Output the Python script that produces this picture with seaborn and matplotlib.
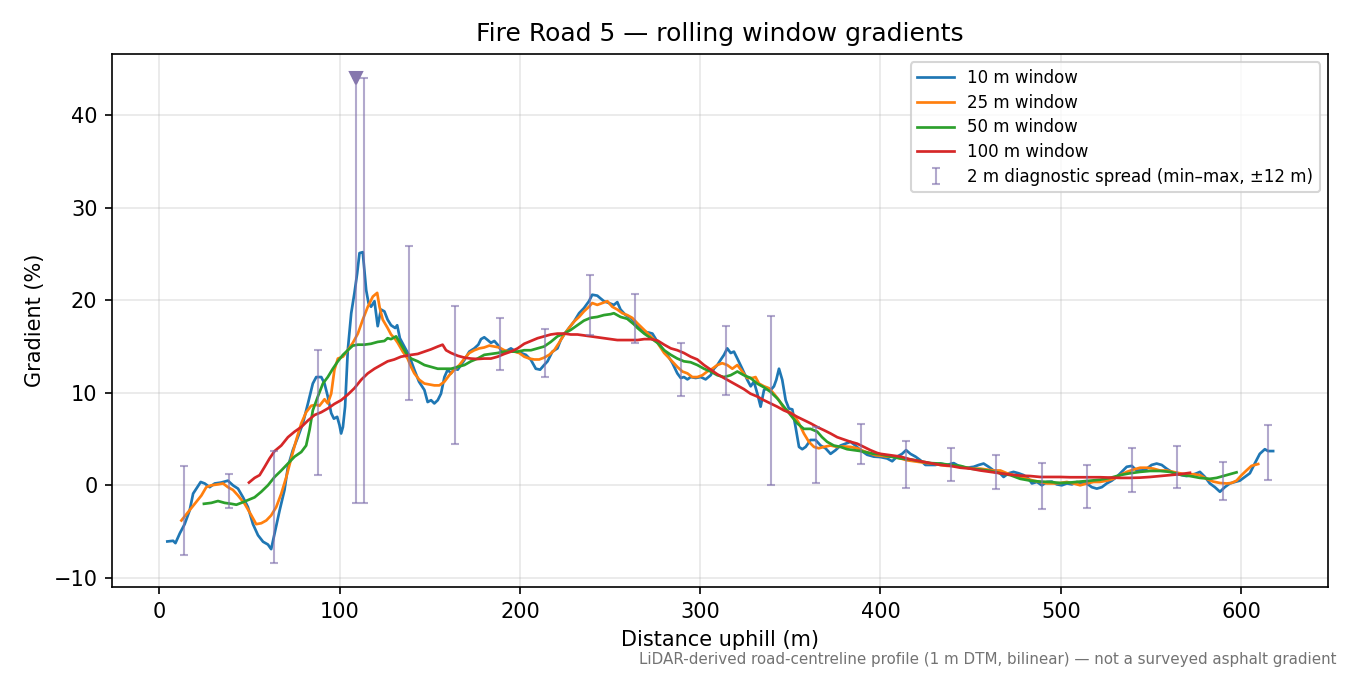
import numpy as np
import pandas as pd
import matplotlib
matplotlib.use("Agg")
import matplotlib.pyplot as plt
import seaborn as sns

# rolling window gradients (distance m, gradient %)
x10 = [4.4, 7.6, 8.9, 11.3, 14.0, 16.8, 18.7, 20.5, 22.9, 25.1, 27.9, 30.7, 34.3, 38.0, 40.8, 43.6,
       46.4, 49.1, 51.9, 54.7, 57.5, 60.2, 62.0, 63.9, 66.7, 69.4, 71.3, 74.0, 76.8, 79.6, 82.4, 85.1,
       87.0, 89.8, 91.6, 93.4, 95.3, 96.8, 98.6, 99.9, 100.8, 101.8, 103.0, 104.5, 106.4, 108.2, 109.7,
       111.0, 112.8, 114.7, 116.0, 117.4, 119.3, 121.1, 122.9, 124.8, 126.6, 128.5, 130.8, 131.9, 133.4,
       136.4, 138.4, 141.4, 144.0, 147.0, 148.8, 150.7, 152.5, 154.4, 156.2, 158.1, 159.9, 161.8, 163.6,
       165.5, 167.3, 169.2, 171.9, 174.7, 176.9, 178.4, 180.2, 182.1, 183.9, 185.8, 187.6, 190.4, 193.2,
       195.0, 197.8, 200.5, 203.3, 206.1, 208.8, 211.2, 213.4, 215.3, 218.0, 220.8, 222.6, 224.5, 227.2,
       230.0, 232.8, 235.5, 238.3, 240.1, 242.9, 244.7, 246.6, 249.4, 252.1, 254.0, 255.8, 258.6, 261.4,
       265.2, 268.9, 271.6, 273.5, 276.3, 279.0, 281.8, 284.6, 287.3, 289.2, 291.0, 292.9, 294.7, 297.5,
       300.3, 303.0, 305.8, 307.6, 309.5, 311.3, 313.2, 315.0, 316.9, 318.7, 320.6, 323.3, 326.1, 328.0,
       329.8, 331.7, 333.5, 335.4, 337.2, 339.1, 340.9, 342.2, 343.7, 345.5, 347.4, 349.2, 351.1, 352.9,
       354.8, 356.6, 358.5, 361.2, 364.0, 366.8, 369.5, 372.3, 375.1, 377.8, 380.6, 383.4, 386.1, 388.9,
       392.6, 396.3, 400.0, 403.7, 406.5, 409.2, 412.0, 414.2, 416.6, 419.4, 422.2, 424.9, 427.7, 430.5,
       433.2, 436.9, 440.6, 444.3, 448.0, 451.7, 454.5, 457.2, 460.0, 462.8, 465.5, 468.3, 471.1, 473.8,
       476.6, 479.4, 482.2, 484.0, 486.8, 489.5, 492.3, 495.1, 497.8, 500.6, 503.4, 506.2, 508.9, 511.7,
       514.5, 517.2, 520.0, 522.8, 525.5, 528.3, 531.0, 533.8, 536.6, 539.4, 542.1, 544.9, 547.7, 550.4,
       553.2, 556.0, 558.7, 561.5, 564.3, 567.0, 569.8, 572.6, 575.4, 577.2, 580.0, 582.7, 585.5, 588.3,
       591.0, 593.8, 596.6, 599.3, 602.1, 604.9, 607.6, 610.4, 613.2, 615.0, 617.8]
g10 = [-6.07, -6.0, -6.25, -5.2, -4.2, -2.7, -0.9, -0.36, 0.36, 0.2, -0.2, 0.2, 0.3, 0.5, 0.0, -0.36,
       -1.3, -2.35, -4.2, -5.4, -6.1, -6.4, -6.9, -5.2, -2.7, -0.5, 2.0, 3.8, 5.2, 6.7, 8.85, 11.0,
       11.7, 11.7, 11.0, 9.6, 7.8, 7.2, 7.4, 6.5, 5.6, 6.3, 8.5, 14.6, 18.6, 20.8, 22.9,
       25.1, 25.2, 21.1, 19.7, 19.3, 19.9, 17.2, 19.0, 18.8, 17.9, 17.3, 17.0, 17.3, 15.9,
       14.8, 14.1, 12.5, 11.2, 10.3, 9.0, 9.2, 8.85, 9.2, 9.9, 11.7, 12.5, 12.1, 12.6,
       12.5, 13.0, 13.55, 14.45, 14.8, 15.2, 15.8, 16.0, 15.7, 15.4, 15.6, 15.2, 14.3, 14.6,
       14.8, 14.45, 14.3, 14.1, 13.55, 12.6, 12.5, 13.0, 13.4, 14.45, 14.8, 15.7, 16.3, 17.0,
       17.7, 18.6, 19.15, 19.9, 20.6, 20.5, 20.2, 19.9, 19.7, 19.5, 19.8, 19.0, 18.4, 18.1,
       17.3, 16.6, 16.5, 16.4, 15.5, 14.8, 14.1, 13.2, 12.1, 11.6, 11.7, 11.45, 11.7, 11.6,
       11.7, 11.45, 11.9, 12.6, 13.0, 13.55, 14.1, 14.8, 14.3, 14.45, 13.7, 12.6, 11.4, 10.7,
       11.2, 9.9, 8.5, 10.3, 10.5, 10.3, 10.7, 11.4, 12.6, 11.4, 9.2, 8.3, 8.2, 6.3,
       4.15, 3.9, 4.15, 4.9, 4.9, 4.3, 4.0, 3.4, 3.8, 4.3, 4.5, 4.7, 4.3, 3.8,
       3.3, 3.1, 3.05, 2.9, 2.6, 3.1, 3.4, 3.8, 3.4, 3.1, 2.7, 2.2, 2.2, 2.2,
       2.35, 2.2, 2.4, 2.0, 1.9, 2.0, 2.2, 2.35, 2.0, 1.6, 1.45, 0.9, 1.3, 1.45,
       1.3, 1.1, 0.7, 0.2, 0.36, 0.0, 0.36, 0.4, 0.1, 0.0, 0.2, 0.1, 0.36, 0.2,
       0.2, -0.2, -0.36, -0.2, 0.2, 0.5, 0.9, 1.45, 2.0, 2.1, 1.6, 1.6, 1.8, 2.2,
       2.35, 2.2, 1.8, 1.45, 1.3, 1.1, 1.0, 1.1, 1.3, 1.45, 0.9, 0.2, -0.2, -0.7,
       -0.2, 0.2, 0.36, 0.5, 0.9, 1.3, 2.35, 3.4, 3.9, 3.7, 3.7]

x25 = [12.2, 15.9, 19.6, 23.3, 26.0, 28.8, 32.5, 35.3, 38.0, 40.8, 43.6, 47.3, 51.0, 53.7, 56.5, 59.3,
       62.0, 64.8, 67.6, 70.4, 73.1, 75.9, 78.7, 81.4, 84.2, 87.0, 88.8, 91.6, 93.4, 95.3, 97.1, 99.0,
       101.8, 104.5, 107.3, 110.1, 112.8, 115.6, 118.4, 120.8, 122.1, 123.9, 126.6, 128.5, 130.4, 132.2,
       135.0, 137.7, 139.6, 141.4, 144.2, 147.0, 149.7, 152.5, 155.3, 158.1, 160.8, 163.6, 166.4, 169.2,
       171.9, 174.7, 177.5, 180.2, 183.0, 185.8, 188.5, 191.3, 194.1, 196.9, 199.6, 202.4, 205.2, 207.9,
       210.7, 213.4, 216.2, 219.0, 221.7, 224.5, 227.2, 230.0, 232.8, 235.5, 238.3, 240.1, 242.9, 245.7,
       248.5, 251.2, 254.0, 256.8, 259.5, 262.3, 265.2, 268.9, 272.6, 276.3, 280.0, 283.7, 287.3, 290.1,
       292.9, 295.6, 298.4, 301.2, 303.9, 306.7, 309.5, 312.2, 315.0, 317.8, 320.6, 323.3, 326.1, 328.9,
       330.7, 332.6, 335.4, 338.1, 340.9, 343.7, 346.4, 349.2, 352.0, 354.8, 357.5, 360.3, 363.1, 365.8,
       368.6, 372.3, 376.0, 379.7, 383.4, 387.1, 390.7, 394.4, 397.2, 400.0, 403.7, 407.4, 411.1, 414.8,
       418.5, 422.2, 425.9, 429.5, 433.2, 436.9, 440.6, 444.3, 448.0, 451.7, 455.4, 459.1, 462.8, 466.5,
       470.2, 473.9, 477.5, 481.2, 484.9, 488.6, 492.3, 496.0, 499.7, 503.4, 507.1, 510.8, 514.5, 518.2,
       521.8, 525.5, 529.2, 532.9, 536.6, 540.3, 544.0, 547.7, 551.4, 555.1, 558.7, 562.4, 566.1, 569.8,
       573.5, 577.2, 580.9, 584.6, 588.3, 592.0, 594.7, 597.5, 600.3, 603.0, 605.8, 609.5]
g25 = [-3.8, -2.9, -2.0, -1.1, -0.2, 0.0, 0.1, 0.2, -0.2, -0.5, -1.1, -2.0, -3.25, -4.2, -4.1, -3.8,
       -3.25, -2.35, -0.9, 0.9, 2.9, 4.9, 6.7, 7.9, 8.6, 8.7, 8.6, 9.3, 8.85, 9.9, 12.5, 13.7,
       13.9, 14.6, 15.4, 16.4, 17.9, 19.3, 20.4, 20.8, 19.3, 17.9, 17.0, 16.3, 15.9, 15.4,
       14.45, 13.7, 12.8, 12.1, 11.4, 11.0, 10.9, 10.8, 10.8, 11.2, 11.9, 12.5, 13.0, 13.7,
       14.3, 14.6, 14.8, 14.9, 15.1, 15.0, 14.9, 14.6, 14.45, 14.45, 14.3, 13.9, 13.7, 13.6,
       13.6, 13.8, 14.1, 14.6, 15.4, 16.3, 17.0, 17.7, 18.2, 18.8, 19.3, 19.7, 19.5, 19.7,
       19.9, 19.3, 19.0, 18.6, 18.4, 18.1, 17.5, 16.8, 16.1, 15.4, 14.3, 13.55, 12.8, 12.3,
       12.1, 11.7, 11.7, 11.9, 12.3, 12.6, 13.0, 13.2, 13.0, 12.6, 13.0, 12.3, 11.6, 11.6,
       11.7, 11.0, 10.7, 10.5, 9.9, 9.2, 8.3, 7.95, 7.6, 6.7, 5.6, 4.7, 4.15, 4.0,
       4.15, 4.3, 4.15, 4.2, 4.15, 4.0, 3.7, 3.45, 3.25, 3.2, 3.1, 3.1, 2.9, 2.7,
       2.6, 2.5, 2.4, 2.35, 2.2, 2.1, 2.1, 2.0, 1.9, 1.8, 1.8, 1.7, 1.6, 1.6,
       1.3, 1.1, 0.9, 0.7, 0.5, 0.36, 0.2, 0.2, 0.25, 0.36, 0.2, 0.0, 0.2, 0.36,
       0.36, 0.5, 0.7, 1.1, 1.45, 1.7, 1.9, 1.9, 1.8, 1.6, 1.6, 1.45, 1.3, 1.15,
       1.2, 1.1, 0.7, 0.4, 0.25, 0.2, 0.25, 0.5, 1.1, 1.6, 2.1, 2.3]

x50 = [24.7, 28.8, 32.5, 36.2, 39.9, 42.7, 45.4, 49.1, 52.8, 56.5, 60.2, 63.9, 67.6, 71.3, 75.0, 78.7,
       81.4, 83.3, 85.1, 87.9, 90.7, 93.4, 96.2, 99.0, 101.8, 104.5, 107.3, 110.1, 113.7, 117.4, 121.1,
       124.8, 126.6, 128.5, 131.3, 134.1, 136.8, 139.6, 143.3, 147.0, 150.7, 154.4, 158.1, 161.8, 165.5,
       169.2, 172.8, 176.5, 180.2, 183.9, 187.6, 191.3, 195.0, 198.7, 202.4, 206.1, 209.8, 213.4, 217.1,
       220.8, 224.5, 228.2, 231.9, 235.5, 239.2, 242.9, 246.6, 250.3, 252.1, 255.8, 259.5, 263.2, 265.2,
       268.9, 272.6, 276.3, 280.0, 283.7, 287.3, 291.0, 294.7, 298.4, 302.1, 305.8, 309.5, 313.2, 316.9,
       320.6, 324.2, 327.9, 331.6, 335.3, 339.0, 342.7, 346.4, 350.1, 353.8, 357.5, 361.2, 364.9, 367.6,
       370.4, 374.1, 377.8, 381.5, 385.2, 388.9, 392.6, 396.3, 400.0, 405.5, 411.1, 416.6, 422.2, 427.7,
       433.2, 438.8, 444.3, 449.9, 455.4, 460.9, 466.5, 472.0, 477.5, 483.1, 488.6, 494.1, 499.7, 505.2,
       510.8, 516.3, 521.8, 527.4, 532.9, 538.4, 544.0, 549.5, 555.1, 560.6, 566.1, 571.7, 577.2, 582.7,
       586.4, 590.1, 593.8, 597.5]
g50 = [-2.0, -1.9, -1.7, -1.9, -2.0, -2.1, -1.9, -1.6, -1.3, -0.7, 0.0, 0.9, 1.6, 2.35, 3.1, 3.6,
       4.3, 6.0, 8.1, 9.6, 11.0, 11.7, 12.6, 13.4, 14.1, 14.6, 15.1, 15.2, 15.2, 15.3, 15.5,
       15.6, 15.9, 15.8, 16.1, 15.2, 14.3, 13.7, 13.4, 13.0, 12.8, 12.6, 12.6, 12.6, 12.8,
       13.0, 13.4, 13.7, 14.1, 14.2, 14.3, 14.45, 14.45, 14.45, 14.6, 14.6, 14.8, 15.0, 15.5,
       16.1, 16.4, 16.8, 17.3, 17.8, 18.1, 18.2, 18.4, 18.5, 18.6, 18.2, 18.0, 17.4, 17.0,
       16.4, 15.9, 15.4, 14.6, 14.1, 13.7, 13.4, 13.3, 13.0, 12.6, 12.3, 11.9, 11.7, 11.9,
       12.3, 11.9, 11.6, 11.0, 10.6, 10.1, 9.4, 8.5, 7.6, 6.7, 6.1, 6.1, 5.8, 5.2,
       4.7, 4.3, 4.15, 3.9, 3.8, 3.7, 3.55, 3.4, 3.35, 3.1, 2.9, 2.8, 2.6, 2.4,
       2.35, 2.2, 2.1, 1.8, 1.7, 1.55, 1.3, 1.1, 0.7, 0.5, 0.4, 0.36, 0.25, 0.3,
       0.4, 0.5, 0.6, 0.8, 1.1, 1.3, 1.45, 1.55, 1.55, 1.45, 1.15, 1.0, 0.8, 0.7,
       0.8, 1.0, 1.2, 1.4]

x100 = [49.7, 52.8, 55.6, 58.4, 61.1, 63.9, 67.6, 71.3, 75.0, 78.7, 82.4, 86.1, 89.8, 93.4, 97.1, 100.8,
        104.5, 108.2, 111.9, 115.6, 119.3, 122.9, 126.6, 130.3, 134.0, 139.6, 143.3, 147.0, 150.7, 154.4,
        157.1, 159.0, 161.8, 165.5, 169.2, 172.8, 176.5, 180.2, 183.9, 187.6, 191.3, 195.0, 198.7, 202.4,
        206.1, 209.8, 213.4, 217.1, 220.8, 224.5, 228.2, 231.9, 235.5, 239.2, 242.9, 246.6, 250.3, 254.0,
        257.7, 261.4, 265.2, 268.9, 272.6, 276.3, 280.0, 283.7, 287.3, 291.0, 294.7, 298.4, 302.1, 305.8,
        309.5, 313.2, 316.9, 320.6, 324.2, 327.9, 331.6, 335.3, 339.0, 342.7, 346.4, 350.1, 353.8, 357.5,
        361.2, 364.9, 368.6, 372.3, 376.0, 379.7, 383.4, 387.1, 390.8, 394.4, 398.1, 400.0, 405.5, 411.1,
        416.6, 422.2, 427.7, 433.2, 438.8, 444.3, 449.9, 455.4, 460.9, 466.5, 472.0, 477.5, 483.1, 488.6,
        494.1, 499.7, 505.2, 510.8, 516.3, 521.8, 527.4, 532.9, 538.4, 544.0, 549.5, 555.1, 560.6, 566.1,
        571.7]
g100 = [0.3, 0.8, 1.1, 2.0, 2.9, 3.7, 4.3, 5.2, 5.8, 6.3, 7.0, 7.6, 7.9, 8.3, 8.8, 9.2,
        9.8, 10.5, 11.4, 12.1, 12.6, 13.0, 13.4, 13.6, 13.9, 14.1, 14.2, 14.45, 14.7, 15.0,
        15.2, 14.6, 14.3, 14.0, 13.8, 13.7, 13.65, 13.7, 13.7, 13.9, 14.2, 14.45, 14.8, 15.3,
        15.6, 15.9, 16.1, 16.3, 16.4, 16.4, 16.3, 16.3, 16.2, 16.1, 16.0, 15.9, 15.8, 15.7,
        15.7, 15.7, 15.7, 15.8, 15.8, 15.65, 15.2, 14.8, 14.6, 14.3, 13.9, 13.6, 13.0, 12.5,
        12.0, 11.6, 11.2, 10.8, 10.4, 9.9, 9.6, 9.2, 8.85, 8.5, 8.1, 7.8, 7.4, 7.05,
        6.7, 6.3, 5.96, 5.6, 5.2, 4.95, 4.7, 4.5, 4.15, 3.8, 3.5, 3.4, 3.25, 3.1,
        2.8, 2.6, 2.4, 2.2, 2.1, 1.9, 1.8, 1.6, 1.45, 1.3, 1.15, 1.05, 1.0, 0.9,
        0.9, 0.9, 0.87, 0.87, 0.87, 0.87, 0.83, 0.8, 0.8, 0.83, 0.9, 1.0, 1.1, 1.2,
        1.35]

# 2 m diagnostic spread, min and max within +-12 m
spread_x = [13.5, 38.4, 63.3, 88.2, 113.3, 138.7, 164.0, 188.9, 213.7, 238.8, 264.0, 289.2, 314.1,
            339.1, 364.0, 389.3, 414.4, 439.2, 464.1, 489.6, 514.5, 539.6, 564.4, 589.8, 615.1]
spread_lo = [-7.5, -2.5, -8.4, 1.1, -1.9, 9.2, 4.5, 12.5, 11.7, 16.3, 15.4, 9.65, 9.75,
             0.0, 0.2, 2.35, -0.3, 0.43, -0.43, -2.6, -2.5, -0.7, -0.3, -1.6, 0.54]
spread_hi = [2.1, 1.2, 3.7, 14.6, 44.0, 25.9, 19.4, 18.1, 16.9, 22.7, 20.7, 15.4, 17.2,
             18.25, 6.3, 6.6, 4.8, 4.05, 3.3, 2.4, 2.2, 4.05, 4.2, 2.5, 6.5]

# steepest 2 m reading
peak_x = [109.0]
peak_lo = [-1.9]
peak_hi = [44.0]

series = [
    ("10 m window", x10, g10, "C0"),
    ("25 m window", x25, g25, "C1"),
    ("50 m window", x50, g50, "C2"),
    ("100 m window", x100, g100, "C3"),
]

fig, ax = plt.subplots(figsize=(9, 4.5), dpi=150)

for label, xs, gs, col in series:
    df = pd.DataFrame({"dist": xs, "grad": gs})
    sns.lineplot(data=df, x="dist", y="grad", ax=ax, color=col, lw=1.3,
                 label=label, estimator=None, sort=True)

bar_col = "#7f70ad"
lo = np.array(spread_lo)
hi = np.array(spread_hi)
ax.errorbar(spread_x, lo, yerr=[np.zeros_like(lo), hi - lo], fmt="none",
            ecolor=bar_col, alpha=0.6, elinewidth=1.0, capsize=2,
            label="2 m diagnostic spread (min\u2013max, \u00b112 m)")
plo = np.array(peak_lo)
phi = np.array(peak_hi)
ax.errorbar(peak_x, plo, yerr=[np.zeros_like(plo), phi - plo], fmt="none",
            ecolor=bar_col, alpha=0.6, elinewidth=1.0, capsize=2)
ax.plot(peak_x, peak_hi, marker="v", ls="none", color="#8677ad", ms=6)

ax.set_title("Fire Road 5 \u2014 rolling window gradients", fontsize=12)
ax.set_xlabel("Distance uphill (m)", fontsize=10)
ax.set_ylabel("Gradient (%)", fontsize=10)
ax.grid(True, alpha=0.3)
ax.legend(loc="upper right", fontsize=8, labelspacing=0.4, handlelength=2.2)

fig.text(0.99, 0.012, "LiDAR-derived road-centreline profile (1 m DTM, bilinear) \u2014 not a surveyed asphalt gradient",
         ha="right", va="bottom", fontsize=7.25, color="0.45")

fig.subplots_adjust(left=0.083, right=0.984, top=0.92, bottom=0.13)
fig.savefig("out.png", dpi=150)
